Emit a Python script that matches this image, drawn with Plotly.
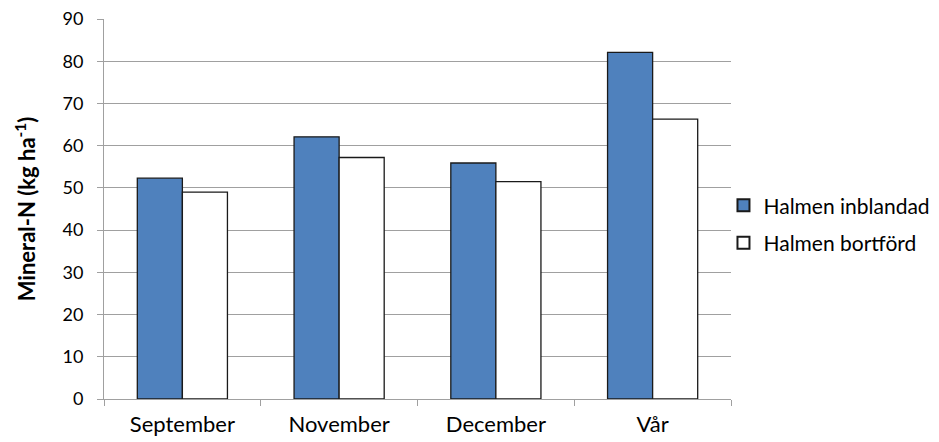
import plotly.graph_objects as go

# Mineral-N per sampling occasion, two straw treatments
categories = ["September", "November", "December", "Vår"]
halmen_inblandad = [52.3, 62.1, 55.9, 82.1]
halmen_bortford = [49.0, 57.2, 51.5, 66.3]
y_ticks = [0, 10, 20, 30, 40, 50, 60, 70, 80, 90]

FONT = "Lato, Open Sans, sans-serif"
GRID = "#a0a0a0"

fig = go.Figure()
fig.add_trace(go.Bar(
    name="Halmen inblandad", x=categories, y=halmen_inblandad,
    legendgroup="a",
    marker=dict(color="#4f81bd", line=dict(color="#1a1a1a", width=1.3)),
))
fig.add_trace(go.Bar(
    name="Halmen bortförd", x=categories, y=halmen_bortford,
    legendgroup="b",
    marker=dict(color="#ffffff", line=dict(color="#1a1a1a", width=1.3)),
))

fig.update_layout(
    width=939, height=442,
    margin=dict(l=104, r=208, t=19, b=43, autoexpand=False),
    paper_bgcolor="white", plot_bgcolor="white",
    barmode="group", bargap=0.425, bargroupgap=0,
    font=dict(family=FONT, size=18, color="#000000"),
    showlegend=True,
    legend=dict(
        x=0.988, y=0.46, xanchor="left", yanchor="middle",
        bgcolor="rgba(0,0,0,0)",
        font=dict(family=FONT, size=21, color="#000000"),
        tracegroupgap=7, itemsizing="constant", itemwidth=30,
    ),
    xaxis=dict(
        showline=True, linecolor=GRID, linewidth=1,
        ticks="outside", tickson="boundaries", ticklen=6, tickcolor=GRID,
        showgrid=False, tickfont=dict(size=22), ticklabelstandoff=6,
    ),
    yaxis=dict(
        range=[0, 90], tickvals=y_ticks,
        showline=True, linecolor=GRID, linewidth=1,
        ticks="outside", ticklen=6, tickcolor=GRID,
        showgrid=True, gridcolor=GRID, gridwidth=1,
        zeroline=False, tickfont=dict(size=18), ticklabelstandoff=10,
        title=dict(text="<b>Mineral-N (kg ha<sup>-1</sup>)</b>",
                   font=dict(size=22), standoff=20),
    ),
)

fig.write_html("out.html")
